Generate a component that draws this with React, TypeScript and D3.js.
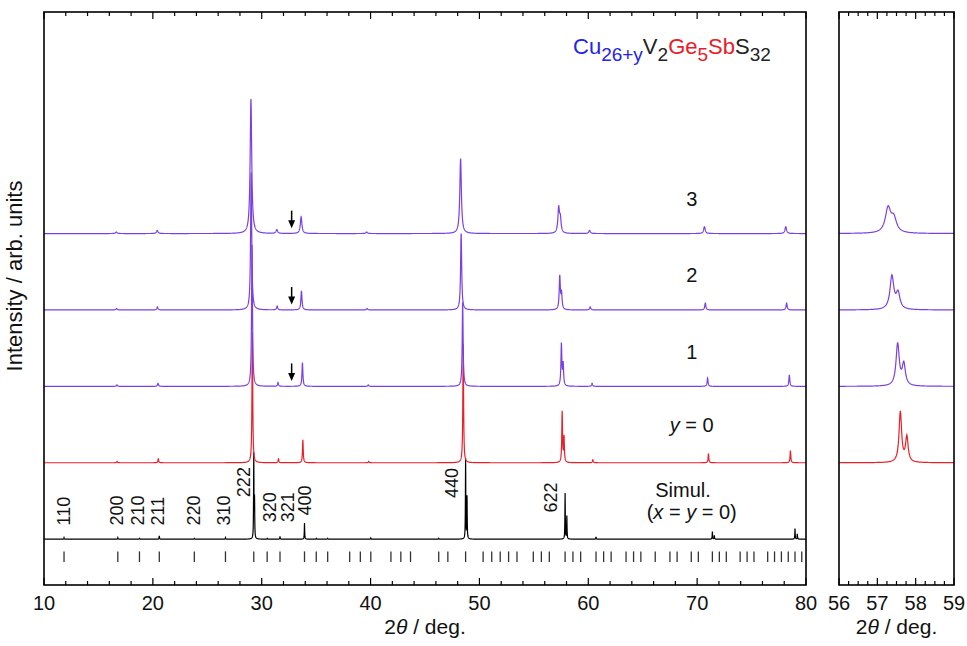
import React, { useMemo } from "react";
import * as d3 from "d3";

const FONT = "'Liberation Sans', Arial, Helvetica, sans-serif";

// ---------------- data ----------------
// series order: simulation, y = 0, 1, 2, 3 (stack offsets in intensity units)
const seriesOffsets = [0, 1, 2, 3, 4];
const seriesHalfWidths = [0.02, 0.04, 0.05, 0.06, 0.085]; // Lorentzian half widths (deg)
const seriesColors = ["#000000", "#e8202a", "#7a40e4", "#7a40e4", "#7a40e4"];

// peaks: [2theta, height]
const simulPeaks: [number, number][] = [
  [11.84, 0.02], [16.78, 0.02], [18.77, 0.01], [20.59, 0.045], [23.81, 0.01],
  [26.67, 0.02], [29.27, 1.1], [29.34, 0.5], [30.5, 0.01], [31.68, 0.035],
  [33.93, 0.21], [35.01, 0.01], [36.06, 0.01], [40.02, 0.015], [46.26, 0.01],
  [48.73, 1.05], [48.86, 0.55], [57.87, 0.6], [58.03, 0.3], [60.71, 0.03],
  [71.4, 0.1], [71.58, 0.05], [78.99, 0.14], [79.2, 0.07],
];
const y0Peaks: [number, number][] = [
  [16.72, 0.02], [20.5, 0.05], [29.14, 1.7], [31.54, 0.05], [33.78, 0.3],
  [39.83, 0.02], [48.51, 1.55], [57.6, 0.663], [57.77, 0.331], [60.42, 0.04],
  [71.04, 0.12], [78.57, 0.16],
];
const y1Peaks: [number, number][] = [
  [16.7, 0.02], [20.47, 0.04], [29.11, 1.85], [31.5, 0.05], [33.74, 0.31],
  [39.79, 0.02], [48.46, 1.1], [57.53, 0.55], [57.69, 0.281], [60.35, 0.04],
  [70.96, 0.11], [78.47, 0.15],
];
const y2Peaks: [number, number][] = [
  [16.67, 0.02], [20.42, 0.04], [29.03, 1.8], [31.42, 0.05], [33.65, 0.25],
  [39.68, 0.02], [48.32, 1.0], [57.38, 0.435], [57.54, 0.206], [60.18, 0.04],
  [70.75, 0.09], [78.22, 0.09],
];
const y3Peaks: [number, number][] = [
  [16.64, 0.02], [20.4, 0.04], [29.01, 1.76], [31.39, 0.05], [33.62, 0.22],
  [39.64, 0.02], [48.27, 0.98], [57.28, 0.32], [57.43, 0.18], [60.12, 0.04],
  [70.67, 0.09], [78.14, 0.09],
];
const seriesPeaks = [simulPeaks, y0Peaks, y1Peaks, y2Peaks, y3Peaks];

// calculated reflection positions (2theta, deg)
const reflectionPos = [
  11.84, 16.78, 18.77, 20.59, 23.81, 26.67, 29.27, 30.5, 31.68, 33.93, 35.01,
  36.06, 38.08, 39.06, 40.02, 41.87, 42.78, 43.67, 46.26, 47.1, 48.73, 50.34,
  51.13, 51.91, 52.68, 53.45, 54.95, 55.69, 56.42, 57.87, 58.59, 59.3, 60.71,
  61.41, 62.1, 63.47, 64.16, 64.83, 66.15, 67.5, 68.16, 69.46, 70.11, 71.4,
  72.04, 72.68, 73.95, 74.59, 75.22, 76.48, 77.11, 77.74, 78.37, 78.99, 79.61,
];

// hkl labels: text, 2theta of label centre, intensity at label start
const hklText = ["110", "200", "210", "211", "220", "310", "222", "320", "321", "400", "440", "622"];
const hklX = [11.8, 16.68, 18.57, 20.41, 23.72, 26.47, 28.31, 30.73, 32.41, 33.95, 47.45, 56.57];
const hklY = [0.18, 0.18, 0.18, 0.18, 0.18, 0.18, 0.55, 0.22, 0.22, 0.31, 0.54, 0.35];

// series labels
const labelX = 69.5;
const labelY = [1.4, 2.36, 3.36, 4.36];

// arrows marking the impurity position
const arrowX = 32.75;
const arrowSeries = [2, 3, 4];

// axis ticks
const mainMajor = [10, 20, 30, 40, 50, 60, 70, 80];
const insetMajor = [56, 57, 58, 59];

// ---------------- layout ----------------
const L = 44, R = 806, T = 12, B = 585;
const IL = 839, IR = 954;

export default function App() {
  const xMain = d3.scaleLinear().domain([10, 80]).range([L, R]);
  const xInset = d3.scaleLinear().domain([56, 59]).range([IL, IR]);
  const y = d3.scaleLinear().domain([-0.6, 6.9]).range([B, T]);

  const grid = useMemo(() => d3.range(1000, 8001).map((i) => i / 100), []);
  const curves = useMemo(
    () =>
      seriesPeaks.map((peaks, si) => {
        const w = seriesHalfWidths[si];
        return grid.map((x) => {
          let s = 0;
          for (const [p, h] of peaks) {
            const t = (x - p) / w;
            s += h / (1 + t * t);
          }
          return [x, s] as [number, number];
        });
      }),
    [grid]
  );

  const mainMinor = d3.range(10, 80.001, 2).filter((v) => v % 10 !== 0);
  const insetMinor = d3.range(56, 59.001, 0.25).filter((v) => Math.abs(v - Math.round(v)) > 1e-6);

  const mainPaths = curves.map((c, i) =>
    d3
      .line<[number, number]>()
      .x((d) => xMain(d[0]))
      .y((d) => y(d[1] + seriesOffsets[i]))(c) as string
  );
  const insetPaths = curves.map((c, i) =>
    d3
      .line<[number, number]>()
      .x((d) => xInset(d[0]))
      .y((d) => y(d[1] + seriesOffsets[i]))(c.filter((d) => d[0] >= 55.95 && d[0] <= 59.05)) as string
  );

  const order = [0, 1, 2, 3, 4];
  const tickFs = 20;

  return (
    <svg
      width={967}
      height={646}
      style={{ position: "absolute", left: 0, top: 0, background: "#fff" }}
      fontFamily={FONT}
    >
      <rect x={0} y={0} width={967} height={646} fill="#fff" />
      <defs>
        <clipPath id="clipMain">
          <rect x={L} y={T} width={R - L} height={B - T} />
        </clipPath>
        <clipPath id="clipInset">
          <rect x={IL} y={T} width={IR - IL} height={B - T} />
        </clipPath>
      </defs>

      {/* main traces */}
      <g clipPath="url(#clipMain)" fill="none">
        {order.map((i) => (
          <path key={i} d={mainPaths[i]} stroke={seriesColors[i]} strokeWidth={1.2} />
        ))}
      </g>
      {/* inset traces */}
      <g clipPath="url(#clipInset)" fill="none">
        {order
          .filter((i) => i > 0)
          .map((i) => (
            <path key={i} d={insetPaths[i]} stroke={seriesColors[i]} strokeWidth={1.2} />
          ))}
      </g>

      {/* reflection markers */}
      <g stroke="#333" strokeWidth={1.3}>
        {reflectionPos.map((p, i) => (
          <line key={i} x1={xMain(p)} x2={xMain(p)} y1={y(-0.16)} y2={y(-0.3)} />
        ))}
      </g>

      {/* hkl labels */}
      <g fontSize={18} fill="#111">
        {hklText.map((t, i) => (
          <text
            key={t}
            transform={`translate(${xMain(hklX[i])},${y(hklY[i])}) rotate(-90)`}
            dy="0.36em"
          >
            {t}
          </text>
        ))}
      </g>

      {/* arrows */}
      <g>
        {arrowSeries.map((s) => {
          const x = xMain(arrowX);
          const y1 = y(seriesOffsets[s] + 0.3);
          const y2 = y(seriesOffsets[s] + 0.07);
          return (
            <g key={s}>
              <line x1={x} x2={x} y1={y1} y2={y2 - 6} stroke="#000" strokeWidth={1.5} />
              <path d={`M${x - 3.5},${y2 - 8} L${x + 3.5},${y2 - 8} L${x},${y2} Z`} fill="#000" />
            </g>
          );
        })}
      </g>

      {/* series labels */}
      <g fontSize={20} fill="#111" textAnchor="middle">
        <text x={xMain(labelX)} y={y(labelY[3])}>3</text>
        <text x={xMain(labelX)} y={y(labelY[2])}>2</text>
        <text x={xMain(labelX)} y={y(labelY[1])}>1</text>
        <text x={xMain(labelX)} y={y(labelY[0])}>
          <tspan fontStyle="italic">y</tspan> = 0
        </text>
        <text x={xMain(68.7)} y={y(0.55)}>Simul.</text>
        <text x={xMain(69.5)} y={y(0.27)}>
          (<tspan fontStyle="italic">x</tspan> = <tspan fontStyle="italic">y</tspan> = 0)
        </text>
      </g>

      {/* title formula */}
      <text x={573} y={54} fontSize={22} fill="#222">
        <tspan fill="#2424e6">Cu</tspan>
        <tspan fill="#2424e6" fontSize={19} dy={7}>26+y</tspan>
        <tspan dy={-7}>V</tspan>
        <tspan fontSize={19} dy={7}>2</tspan>
        <tspan dy={-7} fill="#e8202a">Ge</tspan>
        <tspan fill="#e8202a" fontSize={19} dy={7}>5</tspan>
        <tspan fill="#e8202a" dy={-7}>Sb</tspan>
        <tspan>S</tspan>
        <tspan fontSize={19} dy={7}>32</tspan>
      </text>

      {/* frames */}
      <rect x={L} y={T} width={R - L} height={B - T} fill="none" stroke="#000" strokeWidth={1.6} />
      <rect x={IL} y={T} width={IR - IL} height={B - T} fill="none" stroke="#000" strokeWidth={1.6} />

      {/* ticks */}
      <g stroke="#000" strokeWidth={1.2}>
        {mainMajor.map((v) => (
          <g key={v}>
            <line x1={xMain(v)} x2={xMain(v)} y1={B} y2={B - 7} />
            <line x1={xMain(v)} x2={xMain(v)} y1={T} y2={T + 7} />
          </g>
        ))}
        {mainMinor.map((v) => (
          <g key={v}>
            <line x1={xMain(v)} x2={xMain(v)} y1={B} y2={B - 4} />
            <line x1={xMain(v)} x2={xMain(v)} y1={T} y2={T + 4} />
          </g>
        ))}
        {insetMajor.map((v) => (
          <g key={v}>
            <line x1={xInset(v)} x2={xInset(v)} y1={B} y2={B - 7} />
            <line x1={xInset(v)} x2={xInset(v)} y1={T} y2={T + 7} />
          </g>
        ))}
        {insetMinor.map((v) => (
          <g key={v}>
            <line x1={xInset(v)} x2={xInset(v)} y1={B} y2={B - 4} />
            <line x1={xInset(v)} x2={xInset(v)} y1={T} y2={T + 4} />
          </g>
        ))}
      </g>

      {/* tick labels */}
      <g fontSize={tickFs} fill="#111" textAnchor="middle">
        {mainMajor.map((v) => (
          <text key={v} x={xMain(v)} y={610}>{v}</text>
        ))}
        {insetMajor.map((v) => (
          <text key={v} x={xInset(v)} y={610}>{v}</text>
        ))}
      </g>

      {/* axis labels */}
      <g fontSize={21} fill="#111" textAnchor="middle">
        <text x={(L + R) / 2} y={634}>
          2<tspan fontStyle="italic">θ</tspan> / deg.
        </text>
        <text x={(IL + IR) / 2} y={634}>
          2<tspan fontStyle="italic">θ</tspan> / deg.
        </text>
        <text fontSize={22} transform={`translate(22,276) rotate(-90)`}>Intensity / arb. units</text>
      </g>
    </svg>
  );
}
